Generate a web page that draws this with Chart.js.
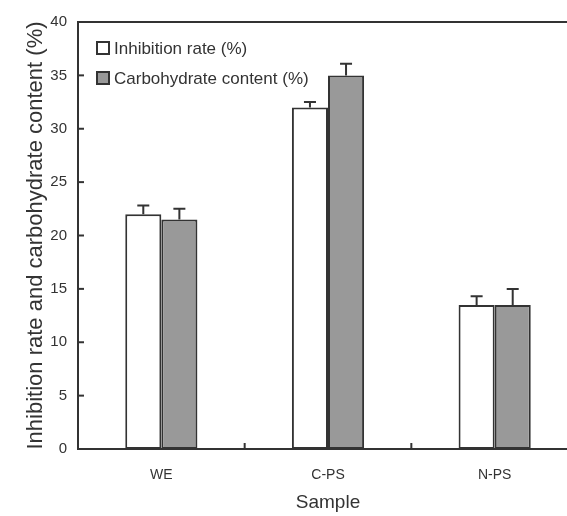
<!DOCTYPE html>
<html><head><meta charset="utf-8">
<script src="https://cdn.jsdelivr.net/npm/chart.js@4/dist/chart.umd.min.js"></script>
<style>html,body{margin:0;padding:0;overflow:hidden;background:#fff;width:567px;height:516px}</style>
</head><body>
<canvas id="c" width="580" height="516"></canvas>
<script>
const categories = ['WE', 'C-PS', 'N-PS'];
const inhibition = [22.0, 32.0, 13.5];
const inhibitionErr = [0.8, 0.5, 0.8];
const carbohydrate = [21.5, 35.0, 13.5];
const carbohydrateErr = [1.0, 1.1, 1.5];
const yTicks = [0, 5, 10, 15, 20, 25, 30, 35, 40];
const seriesLabels = ['Inhibition rate (%)', 'Carbohydrate content (%)'];

const INK = '#333333';
const FONT = "'Liberation Sans', Arial, sans-serif";

const framePlugin = {
  id: 'frame',
  afterDatasetsDraw(chart) {
    const ctx = chart.ctx, a = chart.chartArea, x = chart.scales.x, y = chart.scales.y;
    ctx.save();
    ctx.strokeStyle = INK; ctx.lineWidth = 2; ctx.lineCap = 'butt';
    ctx.beginPath(); ctx.moveTo(a.left - 1, a.top); ctx.lineTo(chart.width, a.top); ctx.stroke();
    chart.data.datasets.forEach((ds, di) => {
      const meta = chart.getDatasetMeta(di);
      meta.data.forEach((bar, i) => {
        const top = y.getPixelForValue(ds.data[i] + ds.err[i]);
        ctx.beginPath();
        ctx.moveTo(bar.x, bar.y); ctx.lineTo(bar.x, top);
        ctx.moveTo(bar.x - 6, top); ctx.lineTo(bar.x + 6, top);
        ctx.stroke();
      });
    });
    yTicks.forEach(v => {
      const py = y.getPixelForValue(v);
      ctx.beginPath(); ctx.moveTo(a.left, py); ctx.lineTo(a.left + 6, py); ctx.stroke();
    });
    for (let i = 0; i < categories.length - 1; i++) {
      const px = (x.getPixelForValue(i) + x.getPixelForValue(i + 1)) / 2;
      ctx.beginPath(); ctx.moveTo(px, a.bottom); ctx.lineTo(px, a.bottom - 6); ctx.stroke();
    }
    ctx.font = '17px ' + FONT;
    ctx.textBaseline = 'middle';
    chart.data.datasets.forEach((ds, di) => {
      const cy = a.top + 26 + di * 30;
      const bx = a.left + 19;
      ctx.fillStyle = ds.backgroundColor;
      ctx.fillRect(bx, cy - 6, 12, 12);
      ctx.strokeRect(bx, cy - 6, 12, 12);
      ctx.fillStyle = INK;
      ctx.fillText(ds.label, bx + 17, cy + 1);
    });
    ctx.restore();
  }
};

new Chart(document.getElementById('c'), {
  type: 'bar',
  data: {
    labels: categories,
    datasets: [
      { label: seriesLabels[0], data: inhibition, err: inhibitionErr, backgroundColor: '#ffffff',
        borderColor: INK, borderWidth: 2, borderSkipped: false, barPercentage: 1, categoryPercentage: 0.433 },
      { label: seriesLabels[1], data: carbohydrate, err: carbohydrateErr, backgroundColor: '#999999',
        borderColor: INK, borderWidth: 2, borderSkipped: false, barPercentage: 1, categoryPercentage: 0.433 }
    ]
  },
  options: {
    responsive: false,
    animation: false,
    layout: { padding: { left: 23, top: 22, right: 2, bottom: 2 } },
    plugins: { legend: { display: false }, tooltip: { enabled: false } },
    scales: {
      x: {
        offset: true,
        grid: { display: false, drawTicks: false },
        border: { display: true, color: INK, width: 2 },
        ticks: { color: INK, font: { family: FONT, size: 14 }, padding: 18 },
        title: { display: true, text: 'Sample', color: INK, font: { family: FONT, size: 19 }, padding: { top: 8, bottom: 0 } },
        afterFit(s) { s.height = 516 - 449 - 2; }
      },
      y: {
        min: 0, max: 40,
        afterBuildTicks(s) { s.ticks = yTicks.map(v => ({ value: v })); },
        grid: { display: false, drawTicks: false },
        border: { display: true, color: INK, width: 2 },
        ticks: { color: INK, font: { family: FONT, size: 15 }, padding: 11 },
        title: { display: true, text: 'Inhibition rate and carbohydrate content (%)', color: INK,
                 font: { family: FONT, size: 22 }, padding: { top: 0, bottom: 2 } },
        afterFit(s) { s.width = 55; }
      }
    }
  },
  plugins: [framePlugin]
});
</script>
</body></html>
